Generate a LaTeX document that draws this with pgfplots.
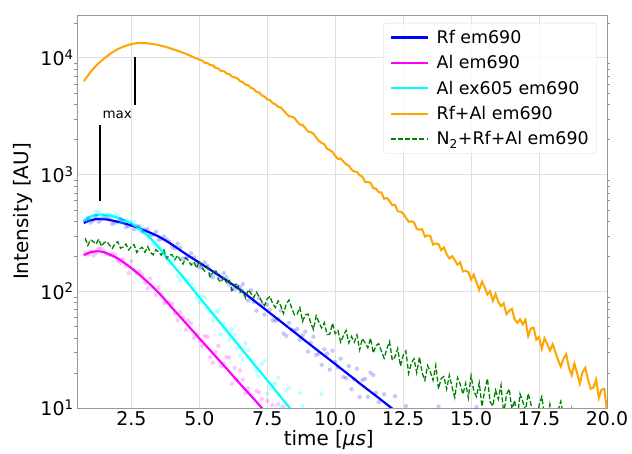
\documentclass[border=0pt]{standalone}
\usepackage{pgfplots}
\pgfplotsset{compat=1.18}
\usepackage{fontspec}
\setmainfont{DejaVu Sans}

\definecolor{mplblue}{RGB}{0,0,255}
\definecolor{mplmagenta}{RGB}{255,0,255}
\definecolor{mplcyan}{RGB}{0,255,255}
\definecolor{mplorange}{RGB}{255,165,0}
\definecolor{mplgreen}{RGB}{0,128,0}

\begin{document}
\begin{tikzpicture}
\begin{axis}[
    scale only axis, width=530bp, height=393bp,
    xmin=0.5, xmax=20,
    ymode=log, ymin=10, ymax=23300,
    xtick={2.5,5,7.5,10,12.5,15,17.5,20},
    xticklabels={2.5,5.0,7.5,10.0,12.5,15.0,17.5,20.0},
    ytick={10,100,1000,10000},
    yticklabels={10\textsuperscript{1},10\textsuperscript{2},10\textsuperscript{3},10\textsuperscript{4}},
    minor ytick={20,30,40,50,60,70,80,90,200,300,400,500,600,700,800,900,2000,3000,4000,5000,6000,7000,8000,9000,20000},
    tick label style={font=\fontsize{19}{22}\selectfont},
    major tick length=0pt, minor tick length=2.5bp,
    tick align=outside, minor tick style={black!45},
    grid=major, major grid style={black!12, line width=0.8bp},
    axis line style={black!40, line width=0.8bp},
    xlabel={time [\textit{μs}]},
    ylabel={Intensity [AU]},
    every axis x label/.style={at={(axis description cs:0.475,-0.081)}, anchor=center,
        font=\fontsize{20}{24}\selectfont},
    every axis y label/.style={at={(axis description cs:-0.101,0.5)}, rotate=90, anchor=center,
        font=\fontsize{20}{24}\selectfont},
    legend cell align=left,
    legend image code/.code={\draw[#1] (0bp,0bp) -- (37bp,0bp); \path (43bp,0bp);},
    legend style={at={(axis description cs:0.981,0.98)}, anchor=north east,
        font=\fontsize{17.5}{21}\selectfont, draw=black!15, rounded corners=3bp,
        fill=white, fill opacity=0.8, text opacity=1, row sep=6.7bp,
        inner xsep=6bp, inner ysep=5bp},
]

% measured points (faint)
\addplot[forget plot, only marks, mark=*, color=mplblue, mark size=2.2bp,
    mark options={draw opacity=0, fill=mplblue, fill opacity=0.22}] coordinates {
(0.8,397) (1.0,388) (1.2,442) (1.4,411) (1.6,427) (1.8,378) (2.0,396) (2.2,402)
(2.4,362) (2.6,340) (2.8,360) (3.0,336) (3.2,305) (3.4,324) (3.6,281) (3.8,277)
(4.0,241) (4.2,255) (4.4,191) (4.6,199) (4.8,195) (5.0,162) (5.2,177) (5.4,138)
(5.6,143) (5.8,130) (6.0,132) (6.2,104) (6.4,111) (6.6,115) (6.8,83.4) (7.0,81.1)
(7.2,87.7) (7.4,63.2) (7.6,69.5) (7.8,56.0) (8.0,68.4) (8.2,41.6) (8.4,47.1) (8.6,47.5)
(8.8,41.8) (9.0,30.5) (9.2,40.8) (9.4,29.3) (9.6,31.8) (9.8,21.3) (10.0,24.8) (10.2,26.4)
(10.4,18.1) (10.6,14.5) (10.8,21.7) (11.0,17.4) (11.2,12.5) (11.4,19.2) (11.6,11.2) (11.8,13.1)
(12.0,8.5) (12.2,12.6) (12.4,6.2) (12.6,10.4) (12.8,8.8) (13.0,5.9) (13.2,8.4) (13.4,5.7)
(13.8,10.3) (15.2,10.2)
(0.9,424) (1.1,403) (1.3,394) (1.5,433) (1.7,413) (1.9,387) (2.1,416) (2.3,355)
(2.5,369) (2.7,362) (2.9,324) (3.1,340) (3.3,305) (3.5,275) (3.7,294) (3.9,265)
(4.1,233) (4.3,237) (4.5,191) (4.7,212) (4.9,177) (5.1,159) (5.3,165) (5.5,132)
(5.7,139) (5.9,143) (6.1,114) (6.3,104) (6.5,108) (6.7,93.5) (6.9,102) (7.1,68.2)
(7.3,78.0) (7.5,76.9) (7.7,56.4) (7.9,57.8) (8.1,43.4) (8.3,53.6) (8.5,45.8) (8.7,38.5)
(8.9,45.0) (9.1,36.1) (9.3,28.4) (9.5,23.4) (9.7,29.2) (9.9,31.0) (10.1,22.3) (10.3,18.4)
(10.5,22.9) (10.7,17.7) (10.9,12.4) (11.1,17.8) (11.3,20.1) (11.5,13.5) (11.7,9.7) (11.9,9.9)
};
\addplot[forget plot, only marks, mark=*, color=mplmagenta, mark size=2.2bp,
    mark options={draw opacity=0, fill=mplmagenta, fill opacity=0.22}] coordinates {
(0.8,215) (1.0,219) (1.2,212) (1.4,234) (1.6,208) (1.8,209) (2.0,183) (2.2,188)
(2.4,143) (2.6,151) (2.8,148) (3.0,119) (3.2,129) (3.4,92.9) (3.6,94.2) (3.8,80.2)
(4.0,78.3) (4.2,56.5) (4.4,59.2) (4.6,56.2) (4.8,39.8) (5.0,37.8) (5.2,41.3) (5.4,27.2)
(5.6,30.3) (5.7,34) (5.8,22.9) (6.0,27.4) (6.1,27) (6.2,16.1) (6.4,17.5) (6.5,21)
(6.6,17.5) (6.8,14.7) (7.0,9.9) (7.1,14) (7.2,13.6) (7.4,8.9) (7.5,11.5) (7.6,9.6)
(7.8,5.8) (7.9,10.8) (8.1,10.3)
(0.9,206) (1.1,203) (1.3,233) (1.5,220) (1.7,205) (1.9,205) (2.1,175) (2.3,165)
(2.5,181) (2.7,143) (2.9,139) (3.1,106) (3.3,108) (3.5,108) (3.7,79.4) (3.9,79.8)
(4.1,65.2) (4.3,66.4) (4.5,46.6) (4.7,53.2) (4.9,43.1) (5.1,34.0) (5.3,40.7) (5.5,24.4)
(5.9,24.2) (6.3,22.1) (6.7,13.4) (7.3,11.9) (7.7,10.6)
};
\addplot[forget plot, only marks, mark=*, color=mplcyan, mark size=2.2bp,
    mark options={draw opacity=0, fill=mplcyan, fill opacity=0.25}] coordinates {
(0.8,417) (1.0,425) (1.2,481) (1.4,433) (1.6,456) (1.8,437) (2.0,445) (2.2,385)
(2.4,399) (2.6,391) (2.8,331) (3.0,312) (3.2,299) (3.4,244) (3.6,230) (3.8,188)
(4.0,197) (4.2,134) (4.4,134) (4.6,124) (4.8,106) (5.0,80.7) (5.2,88.3) (5.4,66.5)
(5.6,67.3) (5.8,42.8) (6.0,47.2) (6.2,47.5) (6.4,32.4) (6.6,25.9) (6.8,31.3) (7.0,25.1)
(7.2,18.7) (7.4,25.4) (7.6,14.7) (7.8,16.1) (8.0,10.2) (8.2,14.1) (8.3,15.0) (8.4,9.5)
(8.6,9.8) (8.7,13.4) (8.8,10.4) (9.5,13.2)
(0.9,407) (1.1,442) (1.3,475) (1.5,431) (1.7,454) (1.9,458) (2.1,390) (2.3,400)
(2.5,394) (2.7,342) (2.9,351) (3.1,294) (3.3,255) (3.5,249) (3.7,212) (3.9,173)
(4.1,184) (4.3,124) (4.5,125) (4.7,115) (4.9,87.5) (5.1,91.8) (5.3,71.1) (5.5,55.8)
(5.7,67.6) (5.9,52.8) (6.1,38.5) (6.3,42.6) (6.5,28.3) (6.7,35.9) (6.9,25.6) (7.1,20.9)
(7.3,23.9) (7.5,13.3) (7.7,16.1) (7.9,18.3)
};

% fitted curves
\addplot[mplblue, line width=2.2bp, smooth] coordinates {
(0.75,385) (1.0,407) (1.3,417) (1.6,412) (2.0,394) (2.5,367) (3.0,331) (3.5,295)
(4.0,251) (4.5,209) (5.0,176) (5.5,148) (6.0,124) (6.5,103) (7.0,83.6) (7.5,67.8)
(8.0,55.0) (8.5,44.6) (9.0,36.1) (9.5,29.3) (10.0,23.8) (10.5,19.3) (11.0,15.6)
(11.5,12.7) (12.0,10.3) (12.5,8.3)
};
\addlegendentry{Rf em690}
\addplot[mplmagenta, line width=2.2bp, smooth] coordinates {
(0.75,204) (1.0,216) (1.25,220) (1.5,216) (2.0,191) (2.5,158) (3.0,126) (3.5,97.3)
(4.0,72.1) (4.5,53.5) (5.0,39.6) (5.5,29.4) (6.0,21.8) (6.5,16.1) (7.0,12.0) (7.5,8.87)
};
\addlegendentry{Al em690}
\addplot[mplcyan, line width=2.2bp, smooth] coordinates {
(0.75,398) (1.0,437) (1.3,454) (1.6,450) (2.0,427) (2.5,380) (3.0,316) (3.5,239)
(4.0,171) (4.5,124) (5.0,88.9) (5.5,64.1) (6.0,46.1) (6.5,33.3) (7.0,23.9) (7.5,17.3)
(8.0,12.4) (8.5,8.95)
};
\addlegendentry{Al ex605 em690}

\addplot[mplorange, line width=2bp] coordinates {
(0.75,6310) (1.0,7586) (1.25,8810) (1.5,9890) (1.75,10960) (2.0,11890) (2.25,12590)
(2.5,13120) (2.75,13430) (3.0,13400) (3.25,13180) (3.5,12880) (3.75,12450) (4.0,11940)
(4.25,11400) (4.5,10840) (4.75,10230) (5.0,9660)
(5.1,9510) (5.2,9080) (5.3,9016) (5.4,8690) (5.5,8630) (5.6,8200) (5.7,8090) (5.8,7727)
(5.9,7709) (6.0,7362) (6.1,7261) (6.2,6902) (6.3,6823) (6.4,6668) (6.5,6324) (6.6,6194)
(6.7,5875) (6.8,5821) (6.9,5534) (7.0,5420) (7.1,5117) (7.2,5058) (7.3,4775) (7.4,4656)
(7.5,4406) (7.6,4345) (7.7,4093) (7.8,4000) (7.9,3802)
(8.0,3758) (8.1,3540) (8.2,3334) (8.3,3155) (8.4,3141) (8.5,3062) (8.6,2844) (8.7,2685)
(8.8,2661) (8.9,2500) (9.0,2339) (9.1,2312) (9.2,2239) (9.3,2080) (9.4,1945) (9.5,1866)
(9.6,1824) (9.7,1663) (9.8,1626) (9.9,1560) (10.0,1445) (10.1,1361) (10.2,1374) (10.3,1294)
(10.4,1222) (10.5,1194) (10.6,1104) (10.7,1062) (10.8,1059) (10.9,984) (11.0,962) (11.1,865)
(11.2,861) (11.3,853) (11.4,764) (11.5,760) (11.6,705) (11.7,703) (11.8,619) (11.9,632)
(12.0,592) (12.1,548) (12.2,552) (12.3,484) (12.4,481) (12.5,465) (12.6,427) (12.7,394)
(12.8,398) (12.9,390) (13.0,343) (13.1,337) (13.2,340) (13.3,294) (13.4,301) (13.5,298)
(13.6,251) (13.7,257) (13.8,254) (13.9,225) (14.0,238) (14.1,208) (14.2,191) (14.3,200)
(14.4,185) (14.5,169) (14.6,177) (14.7,148) (14.8,150) (14.9,146) (15.0,126) (15.1,139)
(15.2,119) (15.3,103) (15.4,121) (15.5,108) (15.6,94.0) (15.7,100) (15.8,83.0) (15.9,94.8)
(16.0,81.3) (16.1,74.6) (16.2,78.7) (16.3,63.7) (16.4,67.9) (16.5,70.8) (16.6,57.5) (16.7,53.7)
(16.8,57.5) (16.9,51.9) (17.0,57.0) (17.1,41.4) (17.2,48.0) (17.3,48.9) (17.4,38.5) (17.5,40.5)
(17.6,32.2) (17.7,39.6) (17.8,35.3) (17.9,31.0) (18.0,35.2) (18.1,30.3) (18.2,25.8) (18.3,22.6)
(18.4,26.5) (18.5,28.9) (18.6,22.1) (18.7,19.1) (18.8,24.0) (18.9,19.9) (19.0,16.2) (19.1,20.3)
(19.2,22.1) (19.3,17.6) (19.4,14.6) (19.5,14.9) (19.6,17.5) (19.7,12.2) (19.8,14.4) (19.9,14.6)
(20.0,9.5)
};
\addlegendentry{Rf+Al em690}

\addplot[mplgreen, line width=1.3bp, dash pattern=on 5bp off 2.2bp] coordinates {
(0.8,285) (0.9,247) (1.0,277) (1.1,266) (1.2,254) (1.3,280) (1.4,243) (1.5,261)
(1.6,267) (1.7,248) (1.8,233) (1.9,256) (2.0,266) (2.1,234) (2.2,240) (2.3,254)
(2.4,226) (2.5,243) (2.6,251) (2.7,215) (2.8,231) (2.9,238) (3.0,216) (3.1,241)
(3.2,216) (3.3,205) (3.4,227) (3.5,217) (3.6,204) (3.7,225) (3.8,191) (3.9,204)
(4.0,206) (4.1,187) (4.2,203) (4.3,186) (4.4,171) (4.5,194) (4.6,183) (4.7,168)
(4.8,178) (4.9,158) (5.0,182) (5.1,159) (5.2,149) (5.3,161) (5.4,133) (5.5,145)
(5.6,153) (5.7,126) (5.8,120) (5.9,130) (6.0,119) (6.1,128) (6.2,102) (6.3,114)
(6.4,116) (6.5,97.7) (6.6,102) (6.7,87.7) (6.8,103) (6.9,95.7) (7.0,88.1) (7.1,98.2)
(7.2,89.9) (7.3,81.5) (7.4,75.5) (7.5,86.1) (7.6,90.6) (7.7,78.3) (7.8,72.6) (7.9,82.8)
(8.0,74.6) (8.1,64.4) (8.2,78.0) (8.3,84.3) (8.4,71.6) (8.5,62.8) (8.6,63.8) (8.7,72.6)
(8.8,55.2) (8.9,62.8) (9.0,63.8) (9.1,53.5) (9.2,47.0) (9.3,61.8) (9.4,54.3) (9.5,48.5)
(9.6,53.8) (9.7,42.6) (9.8,42.9) (9.9,53.2) (10.0,43.4) (10.1,46.1) (10.2,36.6) (10.3,41.5)
(10.4,46.2) (10.5,36.1) (10.6,41.0) (10.7,36.6) (10.8,42.2) (10.9,31.5) (11.0,39.4) (11.1,36.2)
(11.2,32.8) (11.3,39.7) (11.4,29.6) (11.5,34.2) (11.6,35.6) (11.7,30.6) (11.8,26.7) (11.9,32.2)
(12.0,37.2) (12.1,25.7) (12.2,27.5) (12.3,32.4) (12.4,22.9) (12.5,28.2) (12.6,30.8) (12.7,19.8)
(12.8,24.2) (12.9,26.4) (13.0,20.0) (13.1,27.3) (13.2,20.0) (13.3,17.3) (13.4,23.1) (13.5,20.4)
(13.6,17.3) (13.7,23.2) (13.8,14.6) (13.9,17.9) (14.0,18.6) (14.1,14.5) (14.2,19.1) (14.3,15.1)
(14.4,12.3) (14.5,18.2) (14.6,16.0) (14.7,13.1) (14.8,16.3) (14.9,12.2) (15.0,18.9) (15.1,13.9)
(15.2,12.5) (15.3,16.4) (15.4,10.3) (15.5,14.1) (15.6,17.9) (15.7,11.3) (15.8,10.4) (15.9,14.2)
(16.0,11.9) (16.1,15.7) (16.2,8.95) (16.3,13.0) (16.4,14.6) (16.5,9.77) (16.6,11.6) (16.7,8.02)
(16.8,13.2) (16.9,11.4) (17.0,9.51) (17.1,13.3) (17.2,10.8) (17.3,8.43) (17.4,7.05) (17.5,10.5)
(17.6,12.5) (17.7,8.63) (17.8,7.21) (17.9,10.8) (18.0,8.43) (18.1,6.40) (18.2,9.55) (18.3,11.4)
(18.4,8.36) (18.5,6.55) (18.6,7.11) (18.7,9.68) (18.8,5.89) (18.9,8.02) (19.0,8.71) (19.1,6.40)
(19.2,5.18) (19.3,9.38) (19.4,7.59) (19.5,6.34) (19.6,8.09) (19.7,5.25) (19.8,5.52) (19.9,8.83)
(20.0,6.11)
};
\addlegendentry{N\textsubscript{2}+Rf+Al em690}

% "max" markers
\addplot[forget plot, black, line width=2bp] coordinates {(1.33,590) (1.33,2680)};
\addplot[forget plot, black, line width=2bp] coordinates {(2.64,3930) (2.64,10200)};
\node[font=\fontsize{13.5}{16}\selectfont] at (axis cs:1.98,3270) {max};
\end{axis}
\pgfresetboundingbox
\path (current axis.south west) ++(-77bp,-46bp) rectangle ++(632bp,454bp);
\end{tikzpicture}
\end{document}
